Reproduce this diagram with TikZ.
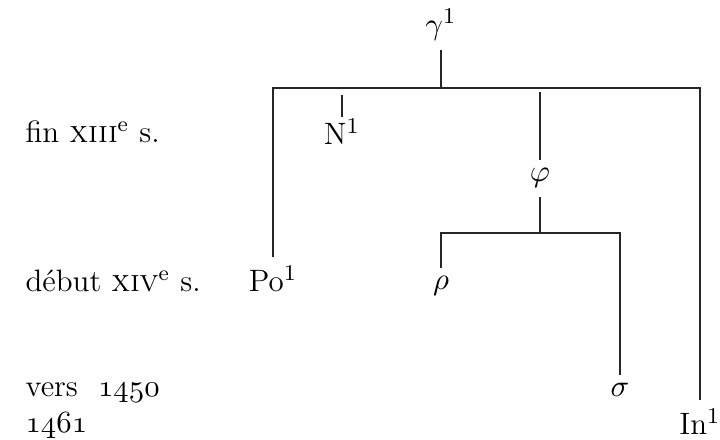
\documentclass[tikz,border=0pt]{standalone}
\usepackage{fontspec}
\usepackage{tikz}
\usetikzlibrary{positioning}
\tikzset{
  witness/.style={anchor=base, inner sep=3pt, font=\fontsize{11}{13}\selectfont},
  period/.style={anchor=base west, inner sep=0pt, font=\fontsize{11}{13}\selectfont},
  branch/.style={line width=0.5pt, color=black!85},
}

\begin{document}
\begin{tikzpicture}[x=0.0125cm, y=-0.0125cm]
  \useasboundingbox (0,0) rectangle (720,440);

  % Dates
  \node[period] (fin13)   at (25,143) {fin \textsc{xiii}\textsuperscript{e} s.};
  \node[period] (debut14) at (25,292) {début \textsc{xiv}\textsuperscript{e} s.};
  \node[period] (vers)    at (25,397) {vers\ \ $\mathnormal{1450}$};
  \node[period] (year)    at (25,433) {$\mathnormal{1461}$};

  % Witnesses
  \node[witness] (gamma) at (441,35)  {$\gamma^1$};
  \node[witness, inner sep=0.5pt] (n) at (342,145) {N$^1$};
  \node[witness] (phi)   at (540,182) {$\varphi$};
  \node[witness] (po)    at (273,292) {Po$^1$};
  \node[witness] (rho)   at (441,290) {$\rho$};
  \node[witness] (sigma) at (620,397) {$\sigma$};
  \node[witness] (in)    at (700,435) {In$^1$};

  % Branch points
  \coordinate (top)     at (441,88);
  \coordinate (nstub)   at (342,95);
  \coordinate (phistub) at (540,92);
  \coordinate (sub)     at (540,233);

  % Stemma lines
  \draw[branch] (gamma) -- (top);
  \draw[branch] (po) |- (top) -| (in);
  \draw[branch] (nstub) -- (n);
  \draw[branch] (phistub) -- (phi);
  \draw[branch] (phi) -- (sub);
  \draw[branch] (rho) |- (sub) -| (sigma);

\end{tikzpicture}
\end{document}
